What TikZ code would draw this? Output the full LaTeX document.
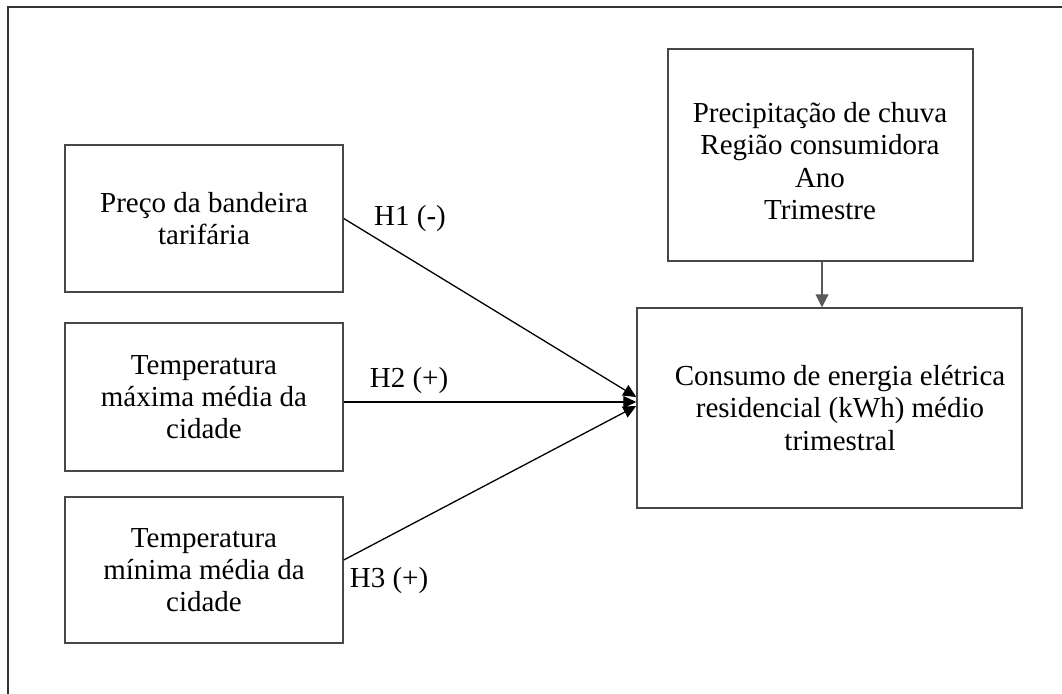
\documentclass[tikz,border=0pt]{standalone}
\usepackage{fontspec}
\setmainfont{Liberation Serif}
\usetikzlibrary{arrows.meta}

\begin{document}
\begin{tikzpicture}[x=1pt,y=-1pt,
  every node/.style={font=\fontsize{29}{32.3}\selectfont},
  varbox/.style={draw=black!72, line width=1.5pt, align=center, inner sep=0pt},
  txt/.style={align=center, inner sep=0pt},
  hyp/.style={inner sep=0pt, anchor=base},
  effect/.style={draw=black, line width=1.3pt, -{Triangle[length=13pt,width=12pt]}},
  control/.style={draw=black!65, line width=1.1pt, -{Triangle[length=13pt,width=13pt]}}
]
\useasboundingbox (0,0) rectangle (1062,693);

% outer frame (runs off the right and bottom edges)
\draw[black!80, line width=2pt] (7.5,700) -- (7.5,7.5) -- (1070,7.5);

% explanatory variables
\node[varbox, minimum width=278pt, minimum height=147pt] (b1) at (204,218.5)
  {Preço da bandeira\\tarifária};
\node[varbox, minimum width=278pt, minimum height=148pt] (b2) at (204,397)
  {Temperatura\\máxima média da\\cidade};
\node[varbox, minimum width=278pt, minimum height=146pt] (b3) at (204,570)
  {Temperatura\\mínima média da\\cidade};

% control variables
\node[varbox, minimum width=305pt, minimum height=212pt] (prec) at (820.5,155) {};
\node[txt] (prectext) at (820,161)
  {Precipitação de chuva\\Região consumidora\\Ano\\Trimestre};

% dependent variable
\node[varbox, minimum width=385pt, minimum height=200pt] (cons) at (829.5,408) {};
\node[txt] (constext) at (840,408)
  {Consumo de energia elétrica\\residencial (kWh) médio\\trimestral};

% hypotheses
\draw[effect] (b1.east) -- ([yshift=11pt]cons.west);
\draw[effect] ([yshift=-5pt]b2.east) -- ([yshift=6pt]cons.west);
\draw[effect] ([yshift=10pt]b3.east) -- ([yshift=2pt]cons.west);
\draw[control] (prec.south -| 822,0) -- (cons.north -| 822,0);

\node[hyp] (h1) at (410,225) {H1 (-)};
\node[hyp] (h2) at (409,387) {H2 (+)};
\node[hyp] (h3) at (389,587) {H3 (+)};
\end{tikzpicture}
\end{document}
